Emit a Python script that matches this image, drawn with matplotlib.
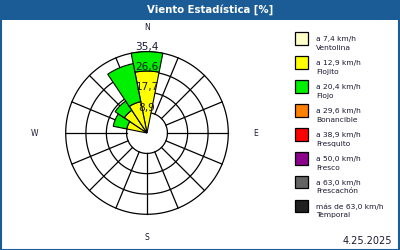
import numpy as np
import matplotlib
matplotlib.use("Agg")
import matplotlib.pyplot as plt
from matplotlib.patches import Rectangle

# ---- data ----
directions = ["N", "NNE", "NE", "ENE", "E", "ESE", "SE", "SSE",
              "S", "SSW", "SW", "WSW", "W", "WNW", "NW", "NNW"]
ventolina = [0, 0, 0, 0, 0, 0, 0, 0, 0, 0, 0, 0, 0, 0, 0, 0]
flojito   = [27.0, 0, 0, 0, 0, 0, 0, 0, 0, 0, 0, 0, 0, 9.0, 11.9, 13.9]
flojo     = [8.4, 0, 0, 0, 0, 0, 0, 0, 0, 0, 0, 0, 0, 6.0, 4.8, 16.9]
ring_values = [8.9, 17.7, 26.6, 35.4]
ring_labels = ["8,9", "17,7", "26,6", "35,4"]
legend_lines1 = ["a 7,4 km/h", "a 12,9 km/h", "a 20,4 km/h", "a 29,6 km/h",
                 "a 38,9 km/h", "a 50,0 km/h", "a 63,0 km/h", "más de 63,0 km/h"]
legend_lines2 = ["Ventolina", "Flojito", "Flojo", "Bonancible",
                 "Fresquito", "Fresco", "Frescachón", "Temporal"]
legend_colors = ["#ffffc8", "#ffff00", "#00f000", "#ff8000",
                 "#ff0000", "#8c008c", "#646464", "#202020"]
title = "Viento Estadística [%]"
date_text = "4.25.2025"

BLUE = "#1b5c96"
W, H = 400, 250
fig = plt.figure(figsize=(4, 2.5), dpi=100)
fig.patch.set_facecolor("white")

# title bar & frame
fig.patches.append(Rectangle((0, 1 - 20 / H), 1, 20 / H, transform=fig.transFigure,
                             facecolor=BLUE, edgecolor="none", zorder=0))
fig.patches.append(Rectangle((0.5 / W, 0.5 / H), 1 - 1.5 / W, 1 - 1.5 / H,
                             transform=fig.transFigure, facecolor="none",
                             edgecolor=BLUE, linewidth=1.5, zorder=5))
fig.text(210 / W, 1 - 10 / H, title, color="white", fontsize=7.3, fontweight="bold",
         ha="center", va="center")

# polar axes
cx, cy, R = 147, 133, 81.3
ax = fig.add_axes([(cx - R) / W, 1 - (cy + R) / H, 2 * R / W, 2 * R / H], projection="polar")
ax.set_theta_zero_location("N")
ax.set_theta_direction(-1)
rmax = ring_values[-1]
ax.set_ylim(0, rmax)
ax.set_xticks([])
ax.set_yticks([])
ax.grid(False)
ax.spines["polar"].set_visible(False)
ax.patch.set_alpha(0)

n = len(directions)
theta = np.arange(n) * 2 * np.pi / n
tt = np.linspace(0, 2 * np.pi, 361)
for rv in ring_values:
    ax.plot(tt, np.full_like(tt, rv), color="black", lw=0.9, zorder=1, clip_on=False)
for t in theta:
    ax.plot([t, t], [ring_values[0], rmax], color="black", lw=0.9, zorder=1, clip_on=False)

width = 2 * np.pi / n
bottom = np.zeros(n)
for vals, col in zip([ventolina, flojito, flojo], legend_colors[:3]):
    v = np.array(vals, dtype=float)
    mask = v > 0
    if mask.any():
        ax.bar(theta[mask], v[mask], width=width, bottom=bottom[mask], color=col,
               edgecolor="black", linewidth=0.8, zorder=2, clip_on=False)
    bottom += v

for rv, lab in zip(ring_values, ring_labels):
    ax.text(0, rv, lab, ha="center", va="bottom", fontsize=7.6, color="#1a1a33",
            zorder=4, clip_on=False)

# compass labels
compass = [("N", 0, 46.1), ("E", np.pi / 2, 47.5), ("S", np.pi, 45.7), ("W", 3 * np.pi / 2, 49.2)]
for lab, t, r in compass:
    ax.text(t, r, lab, ha="center", va="center", fontsize=5.5, color="#1a1a33", clip_on=False)

# legend
for i, (l1, l2, c) in enumerate(zip(legend_lines1, legend_lines2, legend_colors)):
    top = 32.5 + i * 23.9
    fig.patches.append(Rectangle((295 / W, 1 - (top + 12.5) / H), 12.5 / W, 12.5 / H,
                                 transform=fig.transFigure, facecolor=c,
                                 edgecolor="black", linewidth=0.9))
    fig.text(316 / W, 1 - (top + 7) / H, l1, fontsize=5.4, color="#1a1a33", va="center", ha="left")
    fig.text(316 / W, 1 - (top + 15.5) / H, l2, fontsize=5.4, color="#1a1a33", va="center", ha="left")

fig.text(392 / W, 1 - 241 / H, date_text, fontsize=7, color="#1a1a33", ha="right", va="center")

fig.savefig("out.png", dpi=100)
